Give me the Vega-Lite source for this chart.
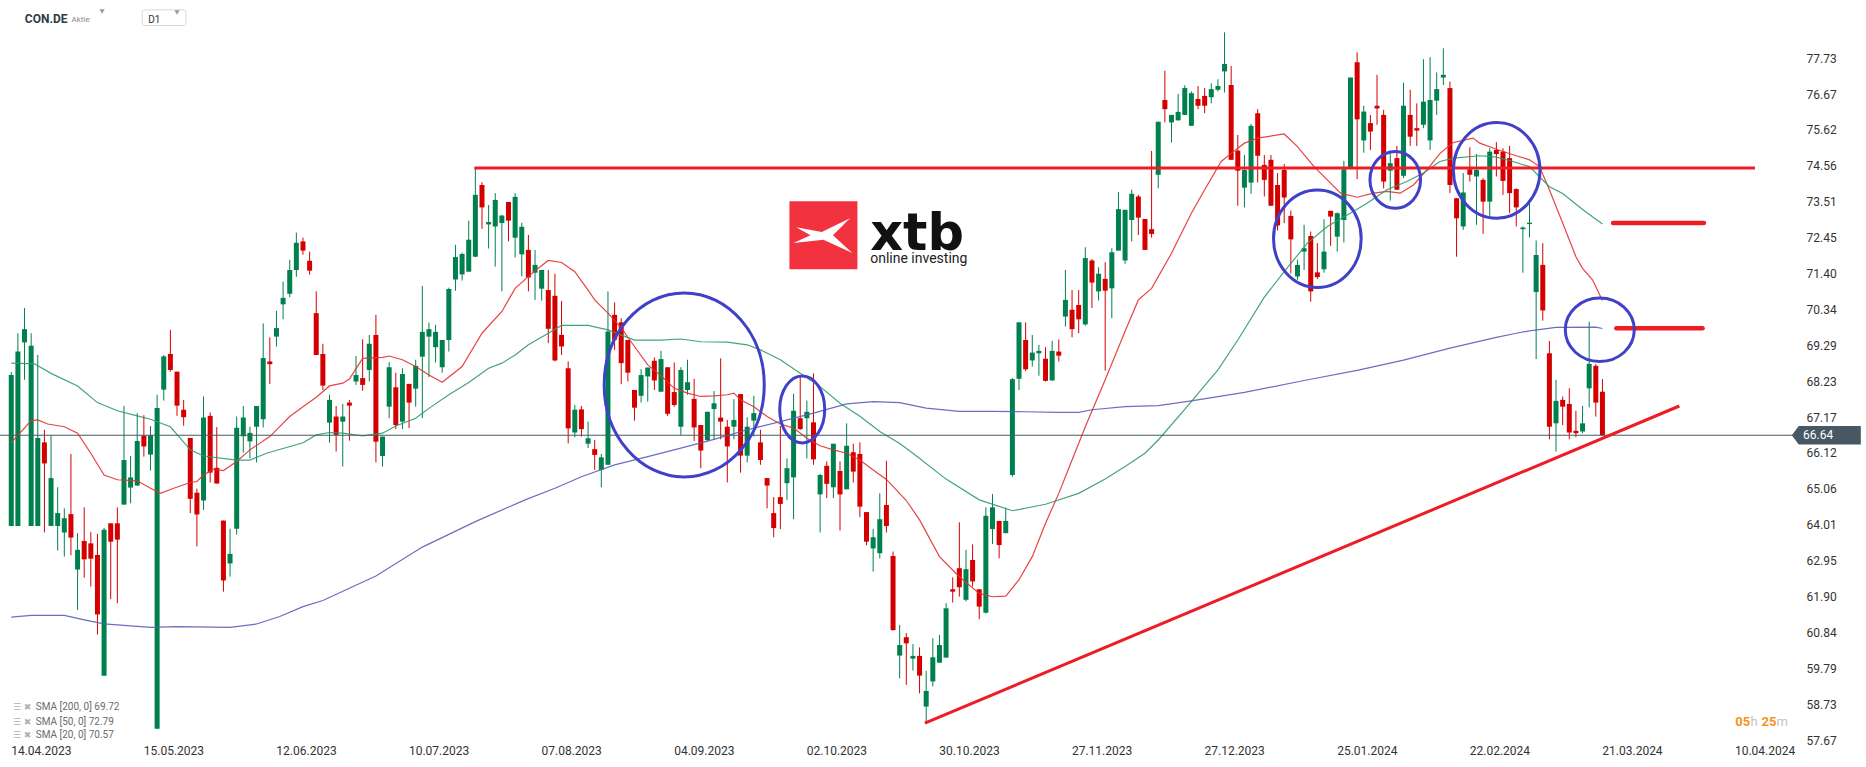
{
"$schema":"https://vega.github.io/schema/vega-lite/v6.json",
"width":1795,"height":745,
"autosize":{"type":"none"},
"padding":{"left":0,"top":0,"right":71,"bottom":22},
"background":"white",
"config":{"view":{"stroke":null},"font":"Roboto","axis":{"labelOverlap":false,"labelFlush":false}},
"datasets":{
"candles":[
{"k":0,"o":63.97,"h":68.5,"l":63.97,"c":68.41},
{"k":1,"o":63.97,"h":69.64,"l":63.97,"c":69.1},
{"k":2,"o":69.37,"h":70.38,"l":68.27,"c":69.76},
{"k":3,"o":63.97,"h":69.64,"l":63.97,"c":69.27},
{"k":4,"o":63.97,"h":69.0,"l":63.97,"c":66.56},
{"k":5,"o":66.43,"h":66.8,"l":63.78,"c":65.81},
{"k":6,"o":63.97,"h":66.64,"l":63.97,"c":65.38},
{"k":7,"o":63.97,"h":65.11,"l":63.25,"c":64.35},
{"k":8,"o":63.78,"h":64.49,"l":63.07,"c":64.2},
{"k":9,"o":64.32,"h":66.09,"l":63.11,"c":63.63},
{"k":10,"o":62.69,"h":63.76,"l":61.5,"c":63.27},
{"k":11,"o":63.53,"h":64.52,"l":62.45,"c":62.99},
{"k":12,"o":63.46,"h":63.79,"l":62.19,"c":63.01},
{"k":13,"o":63.12,"h":63.74,"l":60.78,"c":61.37},
{"k":14,"o":59.57,"h":63.92,"l":59.57,"c":63.86},
{"k":15,"o":64.05,"h":64.05,"l":61.82,"c":63.51},
{"k":16,"o":64.05,"h":64.52,"l":61.7,"c":63.57},
{"k":17,"o":64.6,"h":67.5,"l":64.6,"c":65.91},
{"k":18,"o":65.1,"h":66.03,"l":64.64,"c":65.4},
{"k":19,"o":65.16,"h":67.29,"l":65.16,"c":66.47},
{"k":20,"o":66.63,"h":67.23,"l":66.01,"c":66.31},
{"k":21,"o":66.07,"h":66.91,"l":65.6,"c":66.64},
{"k":22,"o":58.01,"h":67.83,"l":58.01,"c":67.44},
{"k":23,"o":67.98,"h":69.0,"l":67.66,"c":68.96},
{"k":24,"o":69.03,"h":69.74,"l":68.51,"c":68.56},
{"k":25,"o":68.51,"h":68.51,"l":67.21,"c":67.51},
{"k":26,"o":67.39,"h":67.68,"l":66.92,"c":67.17},
{"k":27,"o":66.56,"h":66.56,"l":64.35,"c":64.77},
{"k":28,"o":64.95,"h":65.07,"l":63.37,"c":64.31},
{"k":29,"o":64.72,"h":67.78,"l":64.44,"c":67.16},
{"k":30,"o":67.21,"h":67.31,"l":65.25,"c":65.54},
{"k":31,"o":65.68,"h":66.88,"l":65.22,"c":65.22},
{"k":32,"o":64.13,"h":64.13,"l":62.04,"c":62.37},
{"k":33,"o":62.87,"h":63.89,"l":62.48,"c":63.15},
{"k":34,"o":63.89,"h":67.19,"l":63.72,"c":66.86},
{"k":35,"o":66.61,"h":67.5,"l":66.13,"c":67.16},
{"k":36,"o":66.46,"h":66.89,"l":65.96,"c":66.71},
{"k":37,"o":66.89,"h":67.5,"l":65.84,"c":67.5},
{"k":38,"o":67.11,"h":69.93,"l":66.87,"c":68.91},
{"k":39,"o":68.81,"h":69.52,"l":68.15,"c":68.73},
{"k":40,"o":69.54,"h":70.3,"l":69.25,"c":69.79},
{"k":41,"o":70.49,"h":71.16,"l":70.05,"c":70.68},
{"k":42,"o":70.8,"h":71.8,"l":70.7,"c":71.5},
{"k":43,"o":71.5,"h":72.6,"l":71.3,"c":72.3},
{"k":44,"o":72.34,"h":72.45,"l":71.95,"c":72.07},
{"k":45,"o":71.77,"h":72.04,"l":71.36,"c":71.48},
{"k":46,"o":70.23,"h":70.87,"l":69.0,"c":69.0},
{"k":47,"o":69.03,"h":69.33,"l":67.97,"c":68.1},
{"k":48,"o":67.01,"h":67.83,"l":66.42,"c":67.68},
{"k":49,"o":67.19,"h":67.5,"l":66.16,"c":66.65},
{"k":50,"o":67.04,"h":67.56,"l":65.72,"c":67.19},
{"k":51,"o":67.6,"h":67.68,"l":66.48,"c":67.51},
{"k":52,"o":68.22,"h":68.97,"l":68.12,"c":68.41},
{"k":53,"o":68.32,"h":69.46,"l":67.95,"c":68.12},
{"k":54,"o":68.56,"h":69.59,"l":68.22,"c":69.33},
{"k":55,"o":69.59,"h":70.18,"l":65.84,"c":66.45},
{"k":56,"o":66.03,"h":66.6,"l":65.72,"c":66.6},
{"k":57,"o":67.48,"h":68.79,"l":67.14,"c":68.64},
{"k":58,"o":68.05,"h":68.48,"l":66.82,"c":66.94},
{"k":59,"o":67.04,"h":68.61,"l":66.82,"c":68.44},
{"k":60,"o":68.15,"h":68.15,"l":66.85,"c":67.6},
{"k":61,"o":68.01,"h":68.86,"l":67.48,"c":68.68},
{"k":62,"o":68.95,"h":71.03,"l":67.14,"c":69.68},
{"k":63,"o":69.54,"h":69.95,"l":68.35,"c":69.76},
{"k":64,"o":69.23,"h":69.89,"l":68.78,"c":69.68},
{"k":65,"o":68.64,"h":69.44,"l":68.48,"c":69.44},
{"k":66,"o":69.44,"h":70.98,"l":69.1,"c":70.94},
{"k":67,"o":71.22,"h":72.24,"l":70.89,"c":71.88},
{"k":68,"o":71.37,"h":72.01,"l":71.19,"c":71.97},
{"k":69,"o":71.45,"h":72.95,"l":71.45,"c":72.39},
{"k":70,"o":71.89,"h":74.49,"l":71.88,"c":73.71},
{"k":71,"o":74.0,"h":74.08,"l":72.71,"c":73.34},
{"k":72,"o":72.84,"h":73.41,"l":72.13,"c":72.91},
{"k":73,"o":72.78,"h":73.76,"l":71.6,"c":73.56},
{"k":74,"o":72.88,"h":73.12,"l":70.87,"c":73.1},
{"k":75,"o":73.5,"h":73.5,"l":72.34,"c":72.95},
{"k":76,"o":72.45,"h":73.76,"l":71.87,"c":73.65},
{"k":77,"o":71.96,"h":72.89,"l":71.31,"c":72.77},
{"k":78,"o":72.09,"h":72.53,"l":70.87,"c":71.28},
{"k":79,"o":71.42,"h":72.09,"l":70.62,"c":71.65},
{"k":80,"o":70.95,"h":71.5,"l":70.6,"c":71.5},
{"k":81,"o":70.91,"h":71.5,"l":69.35,"c":69.77},
{"k":82,"o":70.74,"h":71.39,"l":68.81,"c":68.84},
{"k":83,"o":69.59,"h":70.59,"l":69.0,"c":69.25},
{"k":84,"o":68.61,"h":68.81,"l":66.4,"c":66.84},
{"k":85,"o":66.72,"h":67.53,"l":66.58,"c":67.39},
{"k":86,"o":67.4,"h":67.5,"l":66.6,"c":66.82},
{"k":87,"o":66.39,"h":67.04,"l":66.26,"c":66.55},
{"k":88,"o":66.23,"h":66.5,"l":65.62,"c":66.06},
{"k":89,"o":65.62,"h":66.09,"l":65.11,"c":65.99},
{"k":90,"o":65.77,"h":70.87,"l":65.77,"c":69.69},
{"k":91,"o":70.18,"h":70.55,"l":69.15,"c":69.45},
{"k":92,"o":69.96,"h":70.08,"l":68.14,"c":68.76},
{"k":93,"o":69.44,"h":69.44,"l":68.22,"c":68.48},
{"k":94,"o":67.97,"h":67.97,"l":67.07,"c":67.45},
{"k":95,"o":67.8,"h":68.58,"l":67.6,"c":68.41},
{"k":96,"o":68.37,"h":68.63,"l":67.63,"c":68.63},
{"k":97,"o":68.83,"h":68.93,"l":67.97,"c":68.25},
{"k":98,"o":67.92,"h":69.12,"l":67.92,"c":68.88},
{"k":99,"o":68.64,"h":68.64,"l":67.21,"c":67.27},
{"k":100,"o":67.91,"h":68.78,"l":67.48,"c":67.53},
{"k":101,"o":66.89,"h":68.64,"l":66.65,"c":68.56},
{"k":102,"o":67.97,"h":68.86,"l":67.83,"c":68.2},
{"k":103,"o":67.71,"h":68.3,"l":66.47,"c":66.87},
{"k":104,"o":66.94,"h":66.94,"l":65.67,"c":66.19},
{"k":105,"o":66.5,"h":67.33,"l":66.45,"c":67.33},
{"k":106,"o":67.41,"h":67.94,"l":66.52,"c":67.58},
{"k":107,"o":67.16,"h":68.9,"l":66.52,"c":67.04},
{"k":108,"o":66.89,"h":67.09,"l":65.25,"c":66.31},
{"k":109,"o":66.89,"h":67.7,"l":66.52,"c":67.09},
{"k":110,"o":67.85,"h":67.85,"l":65.54,"c":66.04},
{"k":111,"o":66.04,"h":67.17,"l":65.84,"c":66.89},
{"k":112,"o":67.07,"h":67.8,"l":66.6,"c":67.29},
{"k":113,"o":66.43,"h":66.8,"l":65.77,"c":65.91},
{"k":114,"o":65.38,"h":65.38,"l":64.49,"c":65.16},
{"k":115,"o":64.35,"h":64.82,"l":63.64,"c":63.91},
{"k":116,"o":64.82,"h":66.91,"l":63.88,"c":64.62},
{"k":117,"o":65.23,"h":65.96,"l":64.74,"c":65.67},
{"k":118,"o":65.4,"h":67.86,"l":64.17,"c":67.36},
{"k":119,"o":67.14,"h":68.37,"l":66.8,"c":66.82},
{"k":120,"o":67.14,"h":67.66,"l":65.96,"c":67.33},
{"k":121,"o":67.02,"h":68.46,"l":65.77,"c":65.93},
{"k":122,"o":64.9,"h":65.5,"l":63.78,"c":65.47},
{"k":123,"o":65.74,"h":65.87,"l":64.79,"c":65.21},
{"k":124,"o":65.11,"h":66.39,"l":64.79,"c":66.39},
{"k":125,"o":65.59,"h":65.87,"l":63.84,"c":64.9},
{"k":126,"o":65.05,"h":66.99,"l":65.05,"c":66.33},
{"k":127,"o":66.14,"h":66.39,"l":65.25,"c":65.57},
{"k":128,"o":66.09,"h":66.43,"l":64.23,"c":64.54},
{"k":129,"o":64.38,"h":64.38,"l":63.4,"c":63.51},
{"k":130,"o":63.31,"h":63.88,"l":62.63,"c":63.64},
{"k":131,"o":63.17,"h":64.93,"l":63.02,"c":64.17},
{"k":132,"o":64.59,"h":65.89,"l":63.78,"c":63.97},
{"k":133,"o":63.09,"h":63.22,"l":60.89,"c":60.91},
{"k":134,"o":60.16,"h":61.06,"l":59.49,"c":60.47},
{"k":135,"o":60.7,"h":60.82,"l":59.3,"c":60.52},
{"k":136,"o":60.07,"h":60.5,"l":59.72,"c":60.15},
{"k":137,"o":60.15,"h":60.4,"l":59.05,"c":59.57},
{"k":138,"o":58.66,"h":59.71,"l":58.17,"c":59.12},
{"k":139,"o":59.4,"h":60.67,"l":59.25,"c":60.11},
{"k":140,"o":59.95,"h":60.77,"l":59.95,"c":60.47},
{"k":141,"o":60.1,"h":61.7,"l":60.1,"c":61.55},
{"k":142,"o":62.11,"h":62.46,"l":61.72,"c":62.04},
{"k":143,"o":62.73,"h":64.08,"l":61.89,"c":62.17},
{"k":144,"o":61.8,"h":63.27,"l":61.75,"c":62.7},
{"k":145,"o":62.97,"h":63.43,"l":62.19,"c":62.34},
{"k":146,"o":62.11,"h":62.11,"l":61.23,"c":61.6},
{"k":147,"o":61.42,"h":64.52,"l":61.4,"c":64.27},
{"k":148,"o":63.88,"h":64.91,"l":63.44,"c":64.52},
{"k":149,"o":64.12,"h":64.12,"l":63.02,"c":63.41},
{"k":150,"o":63.76,"h":64.51,"l":63.76,"c":64.12},
{"k":151,"o":65.47,"h":68.32,"l":65.42,"c":68.29},
{"k":152,"o":68.3,"h":69.96,"l":67.97,"c":69.96},
{"k":153,"o":69.44,"h":69.96,"l":68.53,"c":68.58},
{"k":154,"o":68.84,"h":69.59,"l":68.66,"c":69.07},
{"k":155,"o":69.05,"h":69.3,"l":68.39,"c":69.12},
{"k":156,"o":68.89,"h":69.23,"l":68.22,"c":68.24},
{"k":157,"o":68.25,"h":69.42,"l":68.25,"c":69.12},
{"k":158,"o":69.1,"h":69.46,"l":68.81,"c":68.98},
{"k":159,"o":70.13,"h":71.5,"l":69.84,"c":70.62},
{"k":160,"o":70.33,"h":70.91,"l":69.52,"c":69.76},
{"k":161,"o":70.47,"h":70.91,"l":69.64,"c":70.05},
{"k":162,"o":69.9,"h":72.17,"l":69.86,"c":71.85},
{"k":163,"o":71.78,"h":71.82,"l":70.38,"c":71.13},
{"k":164,"o":70.87,"h":71.58,"l":70.6,"c":71.39},
{"k":165,"o":71.24,"h":71.73,"l":68.54,"c":70.89},
{"k":166,"o":70.96,"h":72.14,"l":70.08,"c":72.02},
{"k":167,"o":72.07,"h":73.79,"l":72.07,"c":73.29},
{"k":168,"o":71.78,"h":73.27,"l":71.68,"c":73.27},
{"k":169,"o":72.97,"h":73.86,"l":72.34,"c":73.74},
{"k":170,"o":73.66,"h":73.71,"l":72.53,"c":73.04},
{"k":171,"o":73.0,"h":73.0,"l":72.09,"c":72.09},
{"k":172,"o":72.7,"h":75.0,"l":72.45,"c":72.56},
{"k":173,"o":74.3,"h":75.86,"l":73.9,"c":75.86},
{"k":174,"o":76.5,"h":77.36,"l":75.84,"c":76.23},
{"k":175,"o":75.84,"h":76.06,"l":75.25,"c":76.06},
{"k":176,"o":75.9,"h":76.68,"l":75.9,"c":76.15},
{"k":177,"o":76.06,"h":76.93,"l":76.06,"c":76.85},
{"k":178,"o":75.74,"h":76.75,"l":75.74,"c":76.7},
{"k":179,"o":76.53,"h":76.91,"l":76.23,"c":76.33},
{"k":180,"o":76.62,"h":76.85,"l":76.11,"c":76.33},
{"k":181,"o":76.58,"h":76.99,"l":76.4,"c":76.82},
{"k":182,"o":76.8,"h":77.11,"l":76.75,"c":76.91},
{"k":183,"o":77.34,"h":78.49,"l":76.72,"c":77.56},
{"k":184,"o":76.94,"h":77.5,"l":74.74,"c":74.74},
{"k":185,"o":75.01,"h":75.47,"l":73.39,"c":74.42},
{"k":186,"o":73.92,"h":74.88,"l":73.34,"c":74.44},
{"k":187,"o":74.07,"h":75.8,"l":73.74,"c":75.74},
{"k":188,"o":76.11,"h":76.23,"l":74.07,"c":74.86},
{"k":189,"o":74.59,"h":74.88,"l":73.66,"c":74.15},
{"k":190,"o":74.74,"h":74.88,"l":73.39,"c":73.39},
{"k":191,"o":74.0,"h":74.35,"l":72.66,"c":72.81},
{"k":192,"o":74.44,"h":74.62,"l":72.88,"c":73.63},
{"k":193,"o":73.09,"h":73.25,"l":71.4,"c":72.4},
{"k":194,"o":71.31,"h":71.8,"l":71.21,"c":71.65},
{"k":195,"o":72.04,"h":72.83,"l":71.5,"c":72.14},
{"k":196,"o":72.5,"h":72.63,"l":70.57,"c":70.87},
{"k":197,"o":71.43,"h":72.29,"l":71.23,"c":71.29},
{"k":198,"o":71.52,"h":72.99,"l":71.42,"c":72.04},
{"k":199,"o":73.24,"h":73.24,"l":72.21,"c":73.07},
{"k":200,"o":72.48,"h":73.19,"l":72.04,"c":73.17},
{"k":201,"o":72.97,"h":74.71,"l":72.31,"c":74.46},
{"k":202,"o":74.49,"h":77.16,"l":74.46,"c":77.16},
{"k":203,"o":77.61,"h":77.9,"l":74.17,"c":75.93},
{"k":204,"o":75.31,"h":76.33,"l":74.95,"c":76.16},
{"k":205,"o":75.82,"h":76.06,"l":75.03,"c":75.57},
{"k":206,"o":76.33,"h":77.24,"l":75.77,"c":76.25},
{"k":207,"o":76.06,"h":76.21,"l":73.9,"c":74.1},
{"k":208,"o":74.42,"h":74.98,"l":73.54,"c":74.64},
{"k":209,"o":74.79,"h":75.15,"l":73.86,"c":73.86},
{"k":210,"o":74.27,"h":77.01,"l":74.2,"c":76.33},
{"k":211,"o":76.06,"h":76.8,"l":75.15,"c":75.42},
{"k":212,"o":75.67,"h":76.4,"l":75.15,"c":75.6},
{"k":213,"o":75.77,"h":77.7,"l":75.67,"c":76.45},
{"k":214,"o":75.31,"h":77.76,"l":75.03,"c":76.5},
{"k":215,"o":76.48,"h":77.31,"l":76.06,"c":76.82},
{"k":216,"o":77.16,"h":78.02,"l":76.94,"c":77.24},
{"k":217,"o":76.85,"h":77.04,"l":73.76,"c":74.0},
{"k":218,"o":73.61,"h":73.61,"l":71.89,"c":73.02},
{"k":219,"o":72.78,"h":74.35,"l":72.68,"c":73.78},
{"k":220,"o":74.46,"h":75.11,"l":74.1,"c":74.3},
{"k":221,"o":74.25,"h":74.91,"l":72.83,"c":74.44},
{"k":222,"o":74.15,"h":74.2,"l":72.56,"c":73.51},
{"k":223,"o":73.51,"h":75.08,"l":73.07,"c":74.98},
{"k":224,"o":75.03,"h":75.26,"l":74.25,"c":74.91},
{"k":225,"o":74.98,"h":75.08,"l":73.71,"c":74.12},
{"k":226,"o":74.79,"h":75.15,"l":73.17,"c":73.76},
{"k":227,"o":73.88,"h":73.9,"l":72.78,"c":73.34},
{"k":228,"o":72.7,"h":72.78,"l":71.42,"c":72.75},
{"k":229,"o":72.85,"h":73.56,"l":72.46,"c":72.89},
{"k":230,"o":70.85,"h":72.37,"l":68.88,"c":71.94},
{"k":231,"o":71.65,"h":72.29,"l":70.01,"c":70.31},
{"k":232,"o":69.05,"h":69.41,"l":66.52,"c":66.89},
{"k":233,"o":66.99,"h":68.27,"l":66.16,"c":67.65},
{"k":234,"o":67.68,"h":67.78,"l":66.94,"c":67.48},
{"k":235,"o":67.56,"h":68.02,"l":66.52,"c":66.72},
{"k":236,"o":66.77,"h":67.36,"l":66.58,"c":66.7},
{"k":237,"o":66.75,"h":67.5,"l":66.7,"c":66.99},
{"k":238,"o":68.02,"h":69.98,"l":67.46,"c":68.74},
{"k":239,"o":68.68,"h":68.73,"l":67.19,"c":67.6},
{"k":240,"o":67.92,"h":68.29,"l":66.62,"c":66.64}
],
"sma":[
{"s":"SMA20","k":0,"v":66.42},{"s":"SMA20","k":3,"v":67.07},{"s":"SMA20","k":4,"v":67.09},{"s":"SMA20","k":5.5,"v":66.97},{"s":"SMA20","k":8,"v":66.89},{"s":"SMA20","k":10,"v":66.7},{"s":"SMA20","k":12,"v":66.11},{"s":"SMA20","k":14,"v":65.47},{"s":"SMA20","k":16,"v":65.33},{"s":"SMA20","k":19,"v":65.3},{"s":"SMA20","k":21,"v":65.08},{"s":"SMA20","k":22.5,"v":64.93},{"s":"SMA20","k":24.5,"v":65.08},{"s":"SMA20","k":27,"v":65.25},{"s":"SMA20","k":28,"v":65.28},{"s":"SMA20","k":29,"v":65.47},{"s":"SMA20","k":30.5,"v":65.64},{"s":"SMA20","k":32,"v":65.6},{"s":"SMA20","k":34,"v":65.87},{"s":"SMA20","k":36,"v":66.21},{"s":"SMA20","k":39,"v":66.6},{"s":"SMA20","k":42,"v":67.19},{"s":"SMA20","k":44,"v":67.48},{"s":"SMA20","k":46,"v":67.76},{"s":"SMA20","k":48,"v":68.09},{"s":"SMA20","k":50,"v":68.17},{"s":"SMA20","k":51,"v":68.29},{"s":"SMA20","k":53,"v":68.9},{"s":"SMA20","k":56,"v":68.93},{"s":"SMA20","k":57,"v":68.97},{"s":"SMA20","k":59,"v":68.86},{"s":"SMA20","k":61,"v":68.66},{"s":"SMA20","k":63,"v":68.41},{"s":"SMA20","k":65,"v":68.2},{"s":"SMA20","k":68,"v":68.66},{"s":"SMA20","k":71,"v":69.64},{"s":"SMA20","k":74,"v":70.28},{"s":"SMA20","k":76,"v":70.96},{"s":"SMA20","k":79,"v":71.48},{"s":"SMA20","k":81,"v":71.78},{"s":"SMA20","k":83,"v":71.72},{"s":"SMA20","k":85,"v":71.45},{"s":"SMA20","k":87,"v":70.91},{"s":"SMA20","k":88,"v":70.62},{"s":"SMA20","k":90,"v":70.23},{"s":"SMA20","k":92,"v":69.8},{"s":"SMA20","k":94,"v":69.25},{"s":"SMA20","k":96,"v":68.71},{"s":"SMA20","k":98,"v":68.39},{"s":"SMA20","k":100,"v":68.02},{"s":"SMA20","k":102,"v":67.88},{"s":"SMA20","k":104,"v":67.78},{"s":"SMA20","k":106,"v":67.8},{"s":"SMA20","k":108,"v":67.83},{"s":"SMA20","k":109,"v":67.88},{"s":"SMA20","k":110,"v":67.68},{"s":"SMA20","k":112,"v":67.48},{"s":"SMA20","k":114,"v":67.19},{"s":"SMA20","k":116,"v":66.97},{"s":"SMA20","k":118,"v":66.85},{"s":"SMA20","k":120,"v":66.55},{"s":"SMA20","k":122,"v":66.33},{"s":"SMA20","k":124,"v":66.21},{"s":"SMA20","k":126,"v":66.11},{"s":"SMA20","k":128,"v":65.91},{"s":"SMA20","k":130,"v":65.62},{"s":"SMA20","k":132,"v":65.34},{"s":"SMA20","k":135,"v":64.72},{"s":"SMA20","k":137,"v":64.15},{"s":"SMA20","k":140,"v":63.07},{"s":"SMA20","k":143,"v":62.48},{"s":"SMA20","k":146,"v":61.99},{"s":"SMA20","k":148,"v":61.89},{"s":"SMA20","k":150,"v":61.91},{"s":"SMA20","k":152,"v":62.39},{"s":"SMA20","k":154,"v":63.07},{"s":"SMA20","k":156,"v":64.05},{"s":"SMA20","k":158,"v":64.93},{"s":"SMA20","k":160,"v":65.91},{"s":"SMA20","k":162,"v":66.89},{"s":"SMA20","k":165,"v":68.27},{"s":"SMA20","k":168,"v":69.7},{"s":"SMA20","k":170,"v":70.62},{"s":"SMA20","k":172,"v":70.96},{"s":"SMA20","k":175,"v":71.99},{"s":"SMA20","k":178,"v":73.17},{"s":"SMA20","k":180,"v":73.86},{"s":"SMA20","k":182.5,"v":74.69},{"s":"SMA20","k":184,"v":74.93},{"s":"SMA20","k":186,"v":75.23},{"s":"SMA20","k":188,"v":75.38},{"s":"SMA20","k":192,"v":75.5},{"s":"SMA20","k":194,"v":75.13},{"s":"SMA20","k":196.5,"v":74.54},{"s":"SMA20","k":198.5,"v":74.15},{"s":"SMA20","k":200.5,"v":73.76},{"s":"SMA20","k":203,"v":73.64},{"s":"SMA20","k":205.5,"v":73.76},{"s":"SMA20","k":207.5,"v":73.81},{"s":"SMA20","k":209.5,"v":73.76},{"s":"SMA20","k":211.5,"v":74.0},{"s":"SMA20","k":213.5,"v":74.44},{"s":"SMA20","k":215.5,"v":74.93},{"s":"SMA20","k":217.5,"v":75.25},{"s":"SMA20","k":220.5,"v":75.38},{"s":"SMA20","k":221.5,"v":75.23},{"s":"SMA20","k":224,"v":75.05},{"s":"SMA20","k":227,"v":74.86},{"s":"SMA20","k":229,"v":74.74},{"s":"SMA20","k":230.5,"v":74.54},{"s":"SMA20","k":232,"v":73.86},{"s":"SMA20","k":234,"v":72.88},{"s":"SMA20","k":236,"v":71.89},{"s":"SMA20","k":237,"v":71.55},{"s":"SMA20","k":238.5,"v":71.21},{"s":"SMA20","k":240,"v":70.6},
{"s":"SMA50","k":0,"v":68.76},{"s":"SMA50","k":3.5,"v":68.74},{"s":"SMA50","k":6,"v":68.46},{"s":"SMA50","k":10,"v":68.09},{"s":"SMA50","k":13,"v":67.6},{"s":"SMA50","k":16,"v":67.36},{"s":"SMA50","k":19,"v":67.21},{"s":"SMA50","k":21,"v":67.11},{"s":"SMA50","k":24,"v":66.89},{"s":"SMA50","k":27,"v":66.21},{"s":"SMA50","k":29,"v":66.03},{"s":"SMA50","k":34,"v":65.91},{"s":"SMA50","k":36,"v":65.91},{"s":"SMA50","k":38.5,"v":66.11},{"s":"SMA50","k":44,"v":66.42},{"s":"SMA50","k":46,"v":66.65},{"s":"SMA50","k":48,"v":66.72},{"s":"SMA50","k":50,"v":66.7},{"s":"SMA50","k":53,"v":66.62},{"s":"SMA50","k":56,"v":66.7},{"s":"SMA50","k":58,"v":66.91},{"s":"SMA50","k":61,"v":67.14},{"s":"SMA50","k":63,"v":67.43},{"s":"SMA50","k":66,"v":67.83},{"s":"SMA50","k":69,"v":68.19},{"s":"SMA50","k":72,"v":68.61},{"s":"SMA50","k":74,"v":68.76},{"s":"SMA50","k":76,"v":69.0},{"s":"SMA50","k":78,"v":69.3},{"s":"SMA50","k":81,"v":69.64},{"s":"SMA50","k":83,"v":69.87},{"s":"SMA50","k":87,"v":69.87},{"s":"SMA50","k":90,"v":69.74},{"s":"SMA50","k":94,"v":69.44},{"s":"SMA50","k":98,"v":69.44},{"s":"SMA50","k":101,"v":69.47},{"s":"SMA50","k":104,"v":69.39},{"s":"SMA50","k":108,"v":69.38},{"s":"SMA50","k":111,"v":69.3},{"s":"SMA50","k":113,"v":69.15},{"s":"SMA50","k":116,"v":68.86},{"s":"SMA50","k":119,"v":68.46},{"s":"SMA50","k":122,"v":68.07},{"s":"SMA50","k":125,"v":67.58},{"s":"SMA50","k":128,"v":67.2},{"s":"SMA50","k":131,"v":66.75},{"s":"SMA50","k":134,"v":66.4},{"s":"SMA50","k":136,"v":66.11},{"s":"SMA50","k":141,"v":65.35},{"s":"SMA50","k":146,"v":64.74},{"s":"SMA50","k":151,"v":64.42},{"s":"SMA50","k":156,"v":64.61},{"s":"SMA50","k":161,"v":64.93},{"s":"SMA50","k":165,"v":65.35},{"s":"SMA50","k":168,"v":65.72},{"s":"SMA50","k":171,"v":66.11},{"s":"SMA50","k":173,"v":66.5},{"s":"SMA50","k":177,"v":67.4},{"s":"SMA50","k":182,"v":68.56},{"s":"SMA50","k":185,"v":69.44},{"s":"SMA50","k":189,"v":70.7},{"s":"SMA50","k":192,"v":71.45},{"s":"SMA50","k":195.5,"v":72.29},{"s":"SMA50","k":198.5,"v":72.78},{"s":"SMA50","k":201.5,"v":73.12},{"s":"SMA50","k":204.5,"v":73.46},{"s":"SMA50","k":207.5,"v":73.86},{"s":"SMA50","k":210.5,"v":74.1},{"s":"SMA50","k":213,"v":74.35},{"s":"SMA50","k":215.5,"v":74.69},{"s":"SMA50","k":217.5,"v":74.79},{"s":"SMA50","k":221.5,"v":74.86},{"s":"SMA50","k":224,"v":74.82},{"s":"SMA50","k":226.5,"v":74.69},{"s":"SMA50","k":229,"v":74.54},{"s":"SMA50","k":232,"v":73.95},{"s":"SMA50","k":234,"v":73.75},{"s":"SMA50","k":237,"v":73.28},{"s":"SMA50","k":240,"v":72.85},
{"s":"SMA200","k":0,"v":61.29},{"s":"SMA200","k":3,"v":61.34},{"s":"SMA200","k":8,"v":61.34},{"s":"SMA200","k":11,"v":61.21},{"s":"SMA200","k":14,"v":61.09},{"s":"SMA200","k":21,"v":60.99},{"s":"SMA200","k":25,"v":61.01},{"s":"SMA200","k":33,"v":60.99},{"s":"SMA200","k":37,"v":61.09},{"s":"SMA200","k":40.5,"v":61.31},{"s":"SMA200","k":44,"v":61.6},{"s":"SMA200","k":47,"v":61.78},{"s":"SMA200","k":55,"v":62.5},{"s":"SMA200","k":62,"v":63.35},{"s":"SMA200","k":70,"v":64.1},{"s":"SMA200","k":77.5,"v":64.74},{"s":"SMA200","k":82,"v":65.08},{"s":"SMA200","k":86,"v":65.42},{"s":"SMA200","k":91,"v":65.77},{"s":"SMA200","k":96,"v":66.01},{"s":"SMA200","k":101,"v":66.26},{"s":"SMA200","k":106,"v":66.52},{"s":"SMA200","k":111,"v":66.8},{"s":"SMA200","k":116,"v":67.04},{"s":"SMA200","k":121,"v":67.29},{"s":"SMA200","k":126,"v":67.56},{"s":"SMA200","k":130,"v":67.63},{"s":"SMA200","k":134,"v":67.6},{"s":"SMA200","k":138,"v":67.44},{"s":"SMA200","k":143,"v":67.34},{"s":"SMA200","k":148,"v":67.34},{"s":"SMA200","k":153,"v":67.33},{"s":"SMA200","k":158,"v":67.31},{"s":"SMA200","k":161,"v":67.31},{"s":"SMA200","k":163,"v":67.39},{"s":"SMA200","k":168,"v":67.48},{"s":"SMA200","k":173,"v":67.51},{"s":"SMA200","k":178,"v":67.65},{"s":"SMA200","k":186,"v":67.9},{"s":"SMA200","k":195,"v":68.25},{"s":"SMA200","k":203,"v":68.55},{"s":"SMA200","k":210,"v":68.85},{"s":"SMA200","k":217,"v":69.2},{"s":"SMA200","k":224,"v":69.52},{"s":"SMA200","k":227,"v":69.64},{"s":"SMA200","k":229,"v":69.71},{"s":"SMA200","k":233,"v":69.81},{"s":"SMA200","k":239,"v":69.82},{"s":"SMA200","k":240,"v":69.78}
]
},
"layer":[
{"data":{"name":"candles"},"mark":{"type":"rule","strokeWidth":1},
 "encoding":{
  "x":{"field":"k","type":"quantitative","title":null,"scale":{"domain":[-0.945,268.29],"nice":false,"zero":false},
   "axis":{"title":null,"values":[4.455,24.455,44.455,64.455,84.455,104.455,124.455,144.455,164.455,184.455,204.455,224.455,244.455,264.455],"tickCount":40,
    "labelExpr":"['14.04.2023','15.05.2023','12.06.2023','10.07.2023','07.08.2023','04.09.2023','02.10.2023','30.10.2023','27.11.2023','27.12.2023','25.01.2024','22.02.2024','21.03.2024','10.04.2024'][round((datum.value-4.455)/20)]",
    "ticks":false,"domain":false,"grid":false,"labelFontSize":12,"labelColor":"#333333","labelPadding":0,"labelFlush":false,"labelOverlap":false,"labelFont":"Roboto"}},
  "y":{"field":"l","type":"quantitative","title":null,"scale":{"domain":[57.53,79.44],"nice":false,"zero":false},
   "axis":{"title":null,"orient":"right","values":[57.67,58.73,59.79,60.84,61.9,62.95,64.01,65.06,66.12,67.17,68.23,69.29,70.34,71.4,72.45,73.51,74.56,75.62,76.67,77.73],"tickCount":40,"format":".2f",
    "ticks":false,"domain":false,"grid":false,"labelFontSize":12,"labelColor":"#333333","labelPadding":11,"labelFlush":false,"labelOverlap":false,"labelFont":"Roboto"}},
  "y2":{"field":"h"},
  "color":{"condition":{"test":"datum.c >= datum.o","value":"#00804f"},"value":"#d40000"}
 }},
{"data":{"name":"candles"},"mark":{"type":"bar","size":5},
 "encoding":{
  "x":{"field":"k","type":"quantitative","title":null},
  "y":{"field":"o","type":"quantitative","title":null},
  "y2":{"field":"c"},
  "color":{"condition":{"test":"datum.c >= datum.o","value":"#00804f"},"value":"#d40000"}
 }},
{"data":{"name":"sma"},"mark":{"type":"line","strokeWidth":1.2,"opacity":0.9},
 "encoding":{
  "x":{"field":"k","type":"quantitative","title":null},
  "y":{"field":"v","type":"quantitative","title":null},
  "color":{"field":"s","type":"nominal","scale":{"domain":["SMA20","SMA50","SMA200"],"range":["#e2302f","#2f9a6c","#5a5eb8"]},"legend":null}
 }},
{"data":{"values":[{"p":66.64}]},"mark":{"type":"rule","color":"#4a5a64","strokeWidth":1.2},
 "encoding":{"y":{"field":"p","type":"quantitative","title":null}}},
{"data":{"values":[{"k1":69.85,"p1":74.5,"k2":263.0,"p2":74.5},{"k1":137.8,"p1":58.17,"k2":251.6,"p2":67.5}]},
 "mark":{"type":"rule","color":"#ee1c25","strokeWidth":3},
 "encoding":{"x":{"field":"k1","type":"quantitative","title":null},"x2":{"field":"k2"},"y":{"field":"p1","type":"quantitative","title":null},"y2":{"field":"p2"}}},
{"data":{"values":[{"k1":241.6,"k2":255.3,"p":72.88},{"k1":242.1,"k2":255.1,"p":69.79}]},
 "mark":{"type":"rule","color":"#ee1c25","strokeWidth":4.5,"strokeCap":"round"},
 "encoding":{"x":{"field":"k1","type":"quantitative","title":null},"x2":{"field":"k2"},"y":{"field":"p","type":"quantitative","title":null}}},
{"data":{"values":[{"k":101.5,"p":68.12}]},
 "mark":{"type":"point","filled":false,"opacity":1,"stroke":"#4040c8","color":"#4040c8","strokeWidth":3,"size":33856,
  "shape":"M -0.87 0 C -0.87 -0.5523 -0.4805 -1 0 -1 C 0.4805 -1 0.87 -0.5523 0.87 0 C 0.87 0.5523 0.4805 1 0 1 C -0.4805 1 -0.87 0.5523 -0.87 0 Z"},
 "encoding":{"x":{"field":"k","type":"quantitative","title":null},"y":{"field":"p","type":"quantitative","title":null}}},
{"data":{"values":[{"k":119.3,"p":67.4}]},
 "mark":{"type":"point","filled":false,"opacity":1,"stroke":"#4040c8","color":"#4040c8","strokeWidth":3,"size":4489,
  "shape":"M -0.672 0 C -0.672 -0.5523 -0.3711 -1 0 -1 C 0.3711 -1 0.672 -0.5523 0.672 0 C 0.672 0.5523 0.3711 1 0 1 C -0.3711 1 -0.672 0.5523 -0.672 0 Z"},
 "encoding":{"x":{"field":"k","type":"quantitative","title":null},"y":{"field":"p","type":"quantitative","title":null}}},
{"data":{"values":[{"k":197.0,"p":72.42}]},
 "mark":{"type":"point","filled":false,"opacity":1,"stroke":"#4040c8","color":"#4040c8","strokeWidth":3,"size":9487,
  "shape":"M -0.9 0 C -0.9 -0.5523 -0.4971 -1 0 -1 C 0.4971 -1 0.9 -0.5523 0.9 0 C 0.9 0.5523 0.4971 1 0 1 C -0.4971 1 -0.9 0.5523 -0.9 0 Z"},
 "encoding":{"x":{"field":"k","type":"quantitative","title":null},"y":{"field":"p","type":"quantitative","title":null}}},
{"data":{"values":[{"k":208.75,"p":74.15}]},
 "mark":{"type":"point","filled":false,"opacity":1,"stroke":"#4040c8","color":"#4040c8","strokeWidth":3,"size":3204,
  "shape":"M -0.894 0 C -0.894 -0.5523 -0.4938 -1 0 -1 C 0.4938 -1 0.894 -0.5523 0.894 0 C 0.894 0.5523 0.4938 1 0 1 C -0.4938 1 -0.894 0.5523 -0.894 0 Z"},
 "encoding":{"x":{"field":"k","type":"quantitative","title":null},"y":{"field":"p","type":"quantitative","title":null}}},
{"data":{"values":[{"k":224.05,"p":74.43}]},
 "mark":{"type":"point","filled":false,"opacity":1,"stroke":"#4040c8","color":"#4040c8","strokeWidth":3,"size":9139,
  "shape":"M -0.906 0 C -0.906 -0.5523 -0.5004 -1 0 -1 C 0.5004 -1 0.906 -0.5523 0.906 0 C 0.906 0.5523 0.5004 1 0 1 C -0.5004 1 -0.906 0.5523 -0.906 0 Z"},
 "encoding":{"x":{"field":"k","type":"quantitative","title":null},"y":{"field":"p","type":"quantitative","title":null}}},
{"data":{"values":[{"k":239.6,"p":69.74}]},
 "mark":{"type":"point","filled":false,"opacity":1,"stroke":"#4040c8","color":"#4040c8","strokeWidth":3,"size":4761,
  "shape":"M -1 0 C -1 -0.5076 -0.5523 -0.919 0 -0.919 C 0.5523 -0.919 1 -0.5076 1 0 C 1 0.5076 0.5523 0.919 0 0.919 C -0.5523 0.919 -1 0.5076 -1 0 Z"},
 "encoding":{"x":{"field":"k","type":"quantitative","title":null},"y":{"field":"p","type":"quantitative","title":null}}},
{"data":{"values":[{"k":122.5,"p":72.52}]},
 "mark":{"type":"point","shape":"square","size":4624,"filled":true,"color":"#f2323f","opacity":1},
 "encoding":{"x":{"field":"k","type":"quantitative","title":null},"y":{"field":"p","type":"quantitative","title":null}}},
{"data":{"values":[{"k":122.5,"p":72.52}]},
 "mark":{"type":"point","size":4624,"filled":true,"color":"#ffffff","opacity":1,
  "shape":"M -0.8 -0.24 L -0.05 -0.1 L 0.78 -0.5 L 0.28 0.0 L 0.85 0.52 L 0.0 0.13 L -0.88 0.23 L -0.38 0.0 Z"},
 "encoding":{"x":{"field":"k","type":"quantitative","title":null},"y":{"field":"p","type":"quantitative","title":null}}},
{"data":{"values":[{"k":129.55,"p":72.1,"t":"xtb"}]},
 "mark":{"type":"text","font":"DejaVu Sans","fontWeight":"bold","fontSize":51,"align":"left","baseline":"alphabetic","color":"#111111"},
 "encoding":{"x":{"field":"k","type":"quantitative","title":null},"y":{"field":"p","type":"quantitative","title":null},"text":{"field":"t"}}},
{"data":{"values":[{"k":129.55,"p":71.72,"t":"online investing"}]},
 "mark":{"type":"text","font":"Roboto","fontSize":14,"align":"left","baseline":"alphabetic","color":"#222222"},
 "encoding":{"x":{"field":"k","type":"quantitative","title":null},"y":{"field":"p","type":"quantitative","title":null},"text":{"field":"t"}}},
{"data":{"values":[{"k":2.05,"p":78.76,"t":"CON.DE"}]},
 "mark":{"type":"text","font":"Roboto","fontWeight":"bold","fontSize":12,"align":"left","baseline":"alphabetic","color":"#2b3b47"},
 "encoding":{"x":{"field":"k","type":"quantitative","title":null},"y":{"field":"p","type":"quantitative","title":null},"text":{"field":"t"}}},
{"data":{"values":[{"k":9.1,"p":78.8,"t":"Aktie"}]},
 "mark":{"type":"text","font":"Roboto","fontSize":8,"align":"left","baseline":"alphabetic","color":"#888888"},
 "encoding":{"x":{"field":"k","type":"quantitative","title":null},"y":{"field":"p","type":"quantitative","title":null},"text":{"field":"t"}}},
{"data":{"values":[{"k1":19.75,"k2":26.35,"p1":79.15,"p2":78.69}]},
 "mark":{"type":"rect","fill":"#ffffff","stroke":"#d8d8d8","strokeWidth":1,"cornerRadius":2},
 "encoding":{"x":{"field":"k1","type":"quantitative","title":null},"x2":{"field":"k2"},"y":{"field":"p1","type":"quantitative","title":null},"y2":{"field":"p2"}}},
{"data":{"values":[{"k":20.65,"p":78.77,"t":"D1"}]},
 "mark":{"type":"text","font":"Roboto","fontSize":10,"align":"left","baseline":"alphabetic","color":"#333333"},
 "encoding":{"x":{"field":"k","type":"quantitative","title":null},"y":{"field":"p","type":"quantitative","title":null},"text":{"field":"t"}}},
{"data":{"values":[{"k":13.7,"p":79.1},{"k":25.0,"p":79.07}]},
 "mark":{"type":"point","shape":"triangle-down","size":28,"filled":true,"color":"#9a9a9a","opacity":1},
 "encoding":{"x":{"field":"k","type":"quantitative","title":null},"y":{"field":"p","type":"quantitative","title":null}}},
{"data":{"values":[{"k":3.7,"p":58.66,"t":"SMA [200, 0] 69.72"},{"k":3.7,"p":58.22,"t":"SMA [50, 0] 72.79"},{"k":3.7,"p":57.83,"t":"SMA [20, 0] 70.57"}]},
 "mark":{"type":"text","font":"Roboto","fontSize":10,"align":"left","baseline":"middle","color":"#6b6b6b"},
 "encoding":{"x":{"field":"k","type":"quantitative","title":null},"y":{"field":"p","type":"quantitative","title":null},"text":{"field":"t"}}},
{"data":{"values":[{"k":0.25,"p":58.66,"t":"☰ ✖"},{"k":0.25,"p":58.22,"t":"☰ ✖"},{"k":0.25,"p":57.83,"t":"☰ ✖"}]},
 "mark":{"type":"text","font":"DejaVu Sans","fontSize":9,"align":"left","baseline":"middle","color":"#b0b0b0"},
 "encoding":{"x":{"field":"k","type":"quantitative","title":null},"y":{"field":"p","type":"quantitative","title":null},"text":{"field":"t"}}},
{"data":{"values":[{"k":260.05,"p":58.21,"t":"05"},{"k":264.0,"p":58.21,"t":"25"}]},
 "mark":{"type":"text","font":"Roboto","fontSize":13,"fontWeight":"bold","align":"left","baseline":"middle","color":"#f7941d"},
 "encoding":{"x":{"field":"k","type":"quantitative","title":null},"y":{"field":"p","type":"quantitative","title":null},"text":{"field":"t"}}},
{"data":{"values":[{"k":262.35,"p":58.21,"t":"h"},{"k":266.25,"p":58.21,"t":"m"}]},
 "mark":{"type":"text","font":"Roboto","fontSize":13,"align":"left","baseline":"middle","color":"#c4c4c4"},
 "encoding":{"x":{"field":"k","type":"quantitative","title":null},"y":{"field":"p","type":"quantitative","title":null},"text":{"field":"t"}}},
{"data":{"values":[{"k":273.77,"p":66.64}]},
 "mark":{"type":"point","size":4761,"filled":true,"color":"#475863","opacity":1,
  "shape":"M -1 0 L -0.8 -0.27 L 1 -0.27 L 1 0.27 L -0.8 0.27 Z"},
 "encoding":{"x":{"field":"k","type":"quantitative","title":null},"y":{"field":"p","type":"quantitative","title":null}}},
{"data":{"values":[{"k":270.25,"p":66.64,"t":"66.64"}]},
 "mark":{"type":"text","font":"Roboto","fontSize":12,"align":"left","baseline":"middle","color":"#ffffff"},
 "encoding":{"x":{"field":"k","type":"quantitative","title":null},"y":{"field":"p","type":"quantitative","title":null},"text":{"field":"t"}}}
]
}
